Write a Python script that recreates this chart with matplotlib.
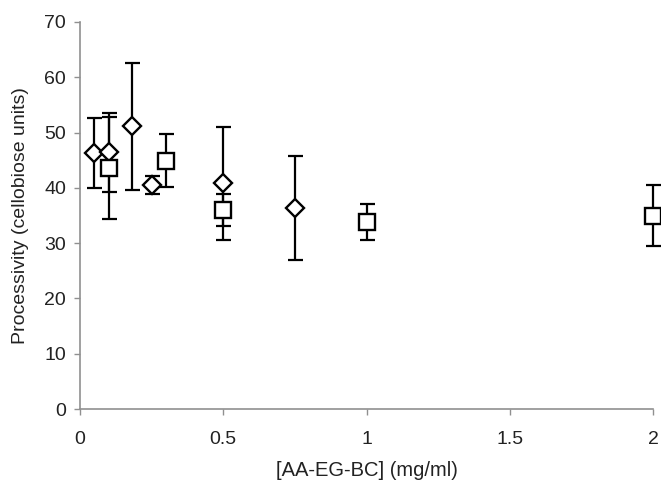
import matplotlib
matplotlib.use("Agg")
import matplotlib.pyplot as plt

plt.rcParams['font.family'] = ['Liberation Sans', 'DejaVu Sans']

# Diamond series
dia_x = [0.05, 0.1, 0.18, 0.25, 0.5, 0.75]
dia_y = [46.3, 46.4, 51.1, 40.5, 40.8, 36.4]
dia_err = [6.4, 7.2, 11.4, 1.7, 10.2, 9.4]

# Square series
sq_x = [0.1, 0.3, 0.5, 1.0, 2.0]
sq_y = [43.6, 44.9, 36.0, 33.8, 35.0]
sq_err = [9.2, 4.8, 2.9, 3.2, 5.6]

xticks = [0, 0.5, 1, 1.5, 2]
xticklabels = ['0', '0.5', '1', '1.5', '2']
yticks = [0, 10, 20, 30, 40, 50, 60, 70]

fig = plt.figure(figsize=(6.61, 4.83), dpi=100)
ax = fig.add_axes([80/661, 1 - 409/483, (653-80)/661, (409-22)/483])

common = dict(fmt='none', ecolor='black', elinewidth=1.6, capsize=5.4, capthick=1.6)
ax.errorbar(dia_x, dia_y, yerr=dia_err, **common, zorder=2)
ax.errorbar(sq_x, sq_y, yerr=sq_err, **common, zorder=2)
ax.plot(dia_x, dia_y, linestyle='none', marker='D', markersize=9,
        markerfacecolor='white', markeredgecolor='black', markeredgewidth=1.7, zorder=3)
ax.plot(sq_x, sq_y, linestyle='none', marker='s', markersize=11.5,
        markerfacecolor='white', markeredgecolor='black', markeredgewidth=1.7, zorder=3)

ax.set_xlim(0, 2)
ax.set_ylim(0, 70)
ax.set_xticks(xticks)
ax.set_xticklabels(xticklabels)
ax.set_yticks(yticks)

for s in ['top', 'right']:
    ax.spines[s].set_visible(False)
for s in ['left', 'bottom']:
    ax.spines[s].set_color('#909090')
    ax.spines[s].set_linewidth(1.2)
ax.tick_params(axis='both', direction='out', length=4, width=1, color='#909090',
               labelsize=14, labelcolor='#222222')
ax.tick_params(axis='x', pad=12)
ax.tick_params(axis='y', pad=6)

ax.set_xlabel('[AA-EG-BC] (mg/ml)', fontsize=14.5, color='#222222', va='center')
ax.set_ylabel('Processivity (cellobiose units)', fontsize=14, color='#222222', va='center')
ax.xaxis.set_label_coords(0.5, (409 - 470) / 387)
ax.yaxis.set_label_coords((21 - 80) / 573, 0.5)

for art in ax.get_children():
    try:
        art.set_clip_on(False)
    except Exception:
        pass

fig.savefig('out.png', dpi=100, facecolor='white')
